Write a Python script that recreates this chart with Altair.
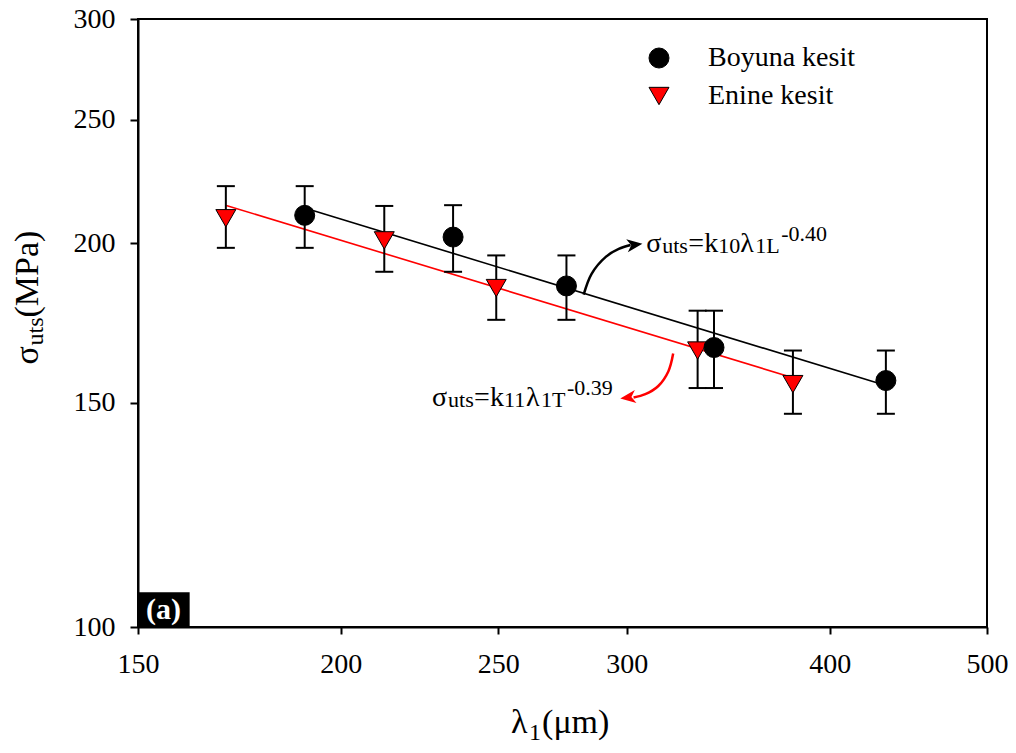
import altair as alt
import pandas as pd

FONT = "'Liberation Serif', 'Times New Roman', Times, 'DejaVu Serif', serif"

# ---------------- data ----------------
x_ticks = [150, 200, 250, 300, 400, 500]
y_ticks = [100, 150, 200, 250, 300]

groups = ["Boyuna kesit", "Enine kesit"]

boyuna_lambda = [190.0, 234.5, 275.4, 339.5, 433.2]
boyuna_sigma = [210.4, 202.3, 185.2, 165.7, 156.1]
boyuna_low = [198.4, 190.0, 174.2, 154.0, 147.0]
boyuna_high = [221.8, 214.3, 195.7, 177.1, 164.8]

enine_lambda = [169.9, 212.7, 249.3, 331.7, 379.7]
enine_sigma = [209.3, 201.1, 184.5, 164.8, 155.1]
enine_low = [198.4, 190.0, 174.2, 154.0, 147.0]
enine_high = [221.8, 214.0, 195.7, 177.1, 164.8]

fit_boyuna_lambda = [190.0, 433.2]
fit_boyuna_sigma = [213.2, 154.7]
fit_enine_lambda = [170.0, 379.7]
fit_enine_sigma = [214.2, 156.9]

# curved annotation arrows (points along each curve, in data units)
arrow_black_lambda = [282.2, 285.4, 291.2, 296.6, 301.6]
arrow_black_sigma = [182.3, 189.3, 195.2, 198.0, 199.4]
arrow_red_lambda = [302.9, 308.0, 313.6, 318.2, 320.4]
arrow_red_sigma = [151.4, 152.3, 154.5, 158.7, 163.9]
head_black = (303.4, 199.5)
head_red = (300.5, 151.4)

# annotation anchors (data units)
eq1_anchor = (308.4, 197.0)
eq2_anchor = (227.6, 149.1)
xtitle_anchor = (254.6, 100.0)
ytitle_anchor = (150.0, 160.7)
label_box = (150.0, 161.4, 100.0, 106.5)
label_center = (155.5, 103.1)

# ---------------- helpers ----------------
def X(field):
    return alt.X(f"{field}:Q",
                 scale=alt.Scale(type="log", domain=[150, 500], nice=False),
                 axis=alt.Axis(values=x_ticks, format="d", title=None, grid=False,
                               tickSize=7, labelPadding=16, labelFlush=False,
                               labelOverlap=False))

def Y(field):
    return alt.Y(f"{field}:Q",
                 scale=alt.Scale(type="log", domain=[100, 300], nice=False),
                 axis=alt.Axis(values=y_ticks, format="d", title=None, grid=False,
                               tickSize=8, labelPadding=15, labelFlush=False,
                               labelOverlap=False))

def piece(anchor, text, size, dx, dy, color="black", angle=0, weight="normal",
          align="left", baseline="alphabetic"):
    df = pd.DataFrame({"px": [anchor[0]], "py": [anchor[1]], "t": [text]})
    return alt.Chart(df).mark_text(
        align=align, baseline=baseline, dx=dx, dy=dy, fontSize=size, font=FONT,
        color=color, angle=angle, fontWeight=weight
    ).encode(x=X("px"), y=Y("py"), text=alt.Text("t:N"))

# ---------------- tables ----------------
pts = pd.DataFrame({
    "lam": enine_lambda + boyuna_lambda,
    "sig": enine_sigma + boyuna_sigma,
    "lo": enine_low + boyuna_low,
    "hi": enine_high + boyuna_high,
    "grp": ["Enine kesit"] * 5 + ["Boyuna kesit"] * 5,
})

fitL = pd.DataFrame({"lam": fit_boyuna_lambda, "sig": fit_boyuna_sigma})
fitT = pd.DataFrame({"lam": fit_enine_lambda, "sig": fit_enine_sigma})
arrB = pd.DataFrame({"lam": arrow_black_lambda, "sig": arrow_black_sigma})
arrR = pd.DataFrame({"lam": arrow_red_lambda, "sig": arrow_red_sigma})
headB = pd.DataFrame({"lam": [head_black[0]], "sig": [head_black[1]]})
headR = pd.DataFrame({"lam": [head_red[0]], "sig": [head_red[1]]})

legend = alt.Legend(title=None, orient="none", legendX=507, legendY=25,
                    symbolSize=400, labelFont=FONT, labelFontSize=28,
                    labelColor="black", labelOffset=35, rowPadding=10, padding=0,
                    symbolStrokeColor="black", symbolStrokeWidth=1)

# ---------------- layers ----------------
line_L = alt.Chart(fitL).mark_line(color="black", strokeWidth=1.6).encode(x=X("lam"), y=Y("sig"))
line_T = alt.Chart(fitT).mark_line(color="red", strokeWidth=1.6).encode(x=X("lam"), y=Y("sig"))

err = alt.Chart(pts).mark_rule(color="black", strokeWidth=2).encode(
    x=X("lam"), y=Y("lo"), y2=alt.Y2("hi"))
cap_lo = alt.Chart(pts).mark_tick(orient="horizontal", size=18, thickness=2, color="black",
                                  opacity=1).encode(x=X("lam"), y=Y("lo"))
cap_hi = alt.Chart(pts).mark_tick(orient="horizontal", size=18, thickness=2, color="black",
                                  opacity=1).encode(x=X("lam"), y=Y("hi"))

points = alt.Chart(pts).mark_point(filled=True, opacity=1, stroke="black", strokeWidth=1,
                                   size=400).encode(
    x=X("lam"), y=Y("sig"),
    color=alt.Color("grp:N", scale=alt.Scale(domain=groups, range=["black", "red"]),
                    legend=legend),
    shape=alt.Shape("grp:N", scale=alt.Scale(domain=groups, range=["circle", "triangle-down"]),
                    legend=legend),
)

arrow_b = alt.Chart(arrB).mark_line(color="black", strokeWidth=2.5,
                                    interpolate="catmull-rom").encode(x=X("lam"), y=Y("sig"))
arrow_r = alt.Chart(arrR).mark_line(color="red", strokeWidth=2.5,
                                    interpolate="catmull-rom").encode(x=X("lam"), y=Y("sig"))
head_b = alt.Chart(headB).mark_point(shape="M1,0L-1,-0.85L-0.45,0L-1,0.85Z", filled=True,
                                     color="black", opacity=1, size=240, angle=353).encode(
    x=X("lam"), y=Y("sig"))
head_r = alt.Chart(headR).mark_point(shape="M-1,0L1,-0.85L0.45,0L1,0.85Z", filled=True,
                                     color="red", opacity=1, size=240, angle=353).encode(
    x=X("lam"), y=Y("sig"))

eq1_pieces = [("σ", 28, 0, 0), ("uts", 22, 16, 1), ("=", 28, 42, 0), ("k", 28, 58, 0),
              ("10", 22, 72, 1), ("λ", 28, 94, 0), ("1L", 22, 109, 1), ("-0.40", 22, 135, -11)]
eq2_pieces = [("σ", 28, 0, 0), ("uts", 22, 16, 1), ("=", 28, 42, 0), ("k", 28, 58, 0),
              ("11", 22, 72, 1), ("λ", 28, 94, 0), ("1T", 22, 109, 1), ("-0.39", 22, 135, -11)]
xt_pieces = [("λ", 34, 0, 106), ("1", 24, 18, 113), ("(μm)", 34, 31, 106)]
yt_pieces = [("σ", 34, 0, -100), ("uts", 24, 19, -95), ("(MPa)", 34, 47, -100)]

texts = []
for t, s, dx, dy in eq1_pieces:
    texts.append(piece(eq1_anchor, t, s, dx, dy))
for t, s, dx, dy in eq2_pieces:
    texts.append(piece(eq2_anchor, t, s, dx, dy))
for t, s, dx, dy in xt_pieces:
    texts.append(piece(xtitle_anchor, t, s, dx, dy))
for t, s, dx, dy in yt_pieces:
    texts.append(piece(ytitle_anchor, t, s, dx, dy, angle=270))

box_df = pd.DataFrame({"x1": [label_box[0]], "x2": [label_box[1]],
                       "y1": [label_box[2]], "y2": [label_box[3]]})
box = alt.Chart(box_df).mark_rect(color="black").encode(
    x=X("x1"), x2=alt.X2("x2"), y=Y("y1"), y2=alt.Y2("y2"))
box_text = piece(label_center, "(a)", 30, 0, 0, color="white", weight="bold",
                 align="center", baseline="middle")

chart = alt.layer(
    line_L, line_T, err, cap_lo, cap_hi, arrow_b, arrow_r, head_b, head_r, points,
    *texts, box, box_text
).properties(
    width=849, height=608,
    padding={"left": 130, "top": 11, "right": 21, "bottom": 118},
    autosize=alt.AutoSizeParams(type="none"),
    background="white",
).configure_view(
    stroke="black", strokeWidth=2
).configure_axis(
    domainColor="black", domainWidth=2, tickColor="black", tickWidth=2,
    labelFont=FONT, labelFontSize=28, labelColor="black"
)

chart.save("out.html", embed_options={"renderer": "svg", "actions": False})
